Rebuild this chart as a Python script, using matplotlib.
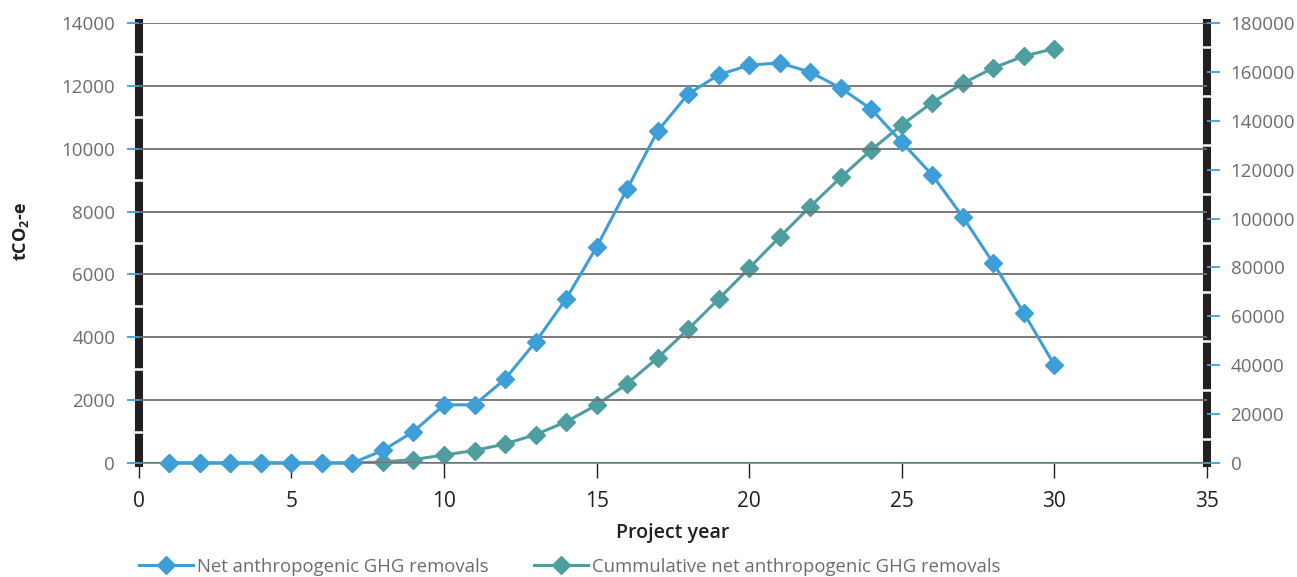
import matplotlib
matplotlib.use('Agg')
import matplotlib.pyplot as plt
from matplotlib.ticker import MultipleLocator

plt.rcParams['font.family'] = ['Open Sans', 'DejaVu Sans']
plt.rcParams['mathtext.default'] = 'regular'

# values
years = list(range(1, 31))
net_removals = [0, 0, 0, 0, 0, 0, 0, 400, 1000, 1850,
                1850, 2670, 3850, 5220, 6870, 8720, 10560, 11740, 12350, 12660,
                12730, 12440, 11930, 11260, 10210, 9160, 7830, 6360, 4770, 3120]
cum_removals = [0, 0, 0, 0, 0, 0, 0, 400, 1400, 3250,
                5100, 7770, 11620, 16840, 23710, 32430, 42990, 54730, 67080, 79740,
                92470, 104910, 116840, 128100, 138310, 147470, 155300, 161660, 166430, 169550]

blue = '#3e9fd8'
teal = '#4f9e9f'
grey_txt = '#6d6d6d'

fig = plt.figure(figsize=(12.97, 5.77), dpi=100)
ax1 = fig.add_axes([0.107, 0.1976, 0.8236, 0.7625])
ax2 = ax1.twinx()
ax1.set_zorder(2)
ax2.set_zorder(1)
ax1.patch.set_visible(False)

# cumulative on the right axis (drawn underneath)
l2, = ax2.plot(years, cum_removals, color=teal, lw=2.2, marker='D', ms=9,
               label='Cummulative net anthropogenic GHG removals', clip_on=False)
l1, = ax1.plot(years, net_removals, color=blue, lw=2.2, marker='D', ms=9,
               label='Net anthropogenic GHG removals', zorder=5, clip_on=False)

ax1.set_xlim(0, 35)
ax1.set_ylim(0, 14000)
ax2.set_ylim(0, 180000)
ax1.xaxis.set_major_locator(MultipleLocator(5))
ax1.yaxis.set_major_locator(MultipleLocator(2000))
ax1.yaxis.set_minor_locator(MultipleLocator(1000))
ax2.yaxis.set_major_locator(MultipleLocator(20000))
ax2.yaxis.set_minor_locator(MultipleLocator(10000))

ax1.grid(axis='y', which='major', color='#6f6f6f', lw=1.3)
ax1.yaxis.set_zorder(3)
ax2.yaxis.set_zorder(3)

for s in ['top', 'right']:
    ax1.spines[s].set_visible(False)
for s in ['top', 'left', 'bottom']:
    ax2.spines[s].set_visible(False)
ax1.spines['left'].set_color('#231f20')
ax1.spines['left'].set_linewidth(5.8)
ax2.spines['right'].set_color('#231f20')
ax2.spines['right'].set_linewidth(5.8)
ax1.spines['bottom'].set_color(blue)
ax1.spines['bottom'].set_linewidth(1.3)

ax1.tick_params(axis='y', which='major', color=blue, length=9, width=1.3,
                labelsize=13.5, labelcolor=grey_txt, pad=8)
ax1.tick_params(axis='y', which='minor', color='white', length=8, width=1.8,
                direction='inout')
ax2.tick_params(axis='y', which='major', color=blue, length=9, width=1.3,
                labelsize=13.5, labelcolor=grey_txt, pad=8)
ax2.tick_params(axis='y', which='minor', color='white', length=8, width=1.8,
                direction='inout')
ax1.tick_params(axis='x', color='#231f20', length=11, width=1.0,
                labelsize=15, labelcolor='#231f20', pad=9)

ax1.set_xlabel('Project year', fontsize=14, color='#231f20', fontweight='semibold', labelpad=8)
fig.text(0.016, 0.598, 'tCO$_2$-e', rotation=90, fontsize=13, fontweight='bold',
         color='#231f20', ha='center', va='center')

fig.legend(handles=[l1, l2], loc='lower left', bbox_to_anchor=(0.0946, -0.027), ncol=2,
           frameon=False, fontsize=13.3, labelcolor=grey_txt, handlelength=2.9,
           handletextpad=0.2, columnspacing=2.5)

fig.savefig('out.png', dpi=100)
